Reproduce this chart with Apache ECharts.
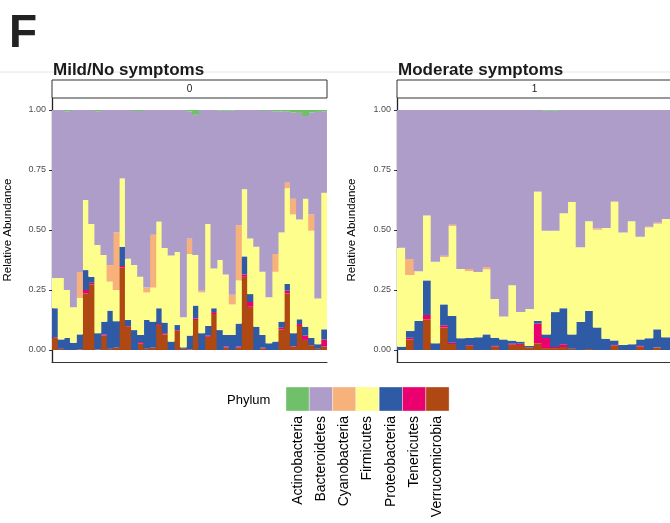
<!DOCTYPE html>
<html><head><meta charset="utf-8">
<script src="https://cdn.jsdelivr.net/npm/echarts@6/dist/echarts.min.js"></script>
<style>html,body{margin:0;padding:0;background:#fff}#chart{width:670px;height:523px}</style>
</head><body><div id="chart"></div>
<script>
// ---------- data ----------
const phyla = ['Actinobacteria','Bacteroidetes','Cyanobacteria','Firmicutes','Proteobacteria','Tenericutes','Verrucomicrobia'];
const phylumColors = ['#70c06a','#af9dc9','#f6b27a','#fefe8c','#2e5aa6','#eb006f','#b04814'];
const panelTitles = ['Mild/No symptoms','Moderate symptoms'];
const stripLabels = ['0','1'];
const yTickValues = [0, 0.25, 0.5, 0.75, 1];
const legendTitle = 'Phylum';
const yTitle = 'Relative Abundance';
const figureLetter = 'F';

const mildSamples = Array.from({length:45},(_,i)=>'M'+(i+1));
const mildVerruco = [.05,.005,0,0,.003, .236,.274,.002,.06,.005, .01,.343,.097,0,.028, .005,.01,.104,.065,0, .08,.005,.003,.125,0, .055,.15,0,.01,0, .01,.305,.18,0,.007, 0,0,.086,.236,.014, .10,.042,.02,.005,.014];
const mildTeneri  = [.003,0,0,0,0, .014,.006,0,.005,0, 0,.007,.003,0,.005, 0,0,.004,.005,0, .003,0,0,.007,0, .005,.008,0,.004,0, .004,.01,.02,0,.003, 0,0,.007,.011,.002, .008,.018,0,0,.03];
const mildProteo  = [.121,.039,.05,.03,.062, .083,.025,.068,.053,.159, .11,.08,.025,.083,.0295, .12,.108,.066,.044,.035, .021,.006,.057,.053,.07, .04,.016,.083,.0485,.0625, .096,.075,.033,.097,.0525, .028,.035,.025,.028,.054, .02,.037,.03,.019,.042];
const mildFirmi   = [.126,.256,.20,.148,.152, .292,.22,.3675,.278,.121, .13,.285,.255,.271,.2425, .115,.142,.361,.311,.359, .304,.125,.34,.211,.17, .425,.166,.292,.2525,.1275, .18,.28,.232,.333,.2635, .192,.291,.372,.399,.495, .416,.533,.447,.191,.569];
const mildCyano   = [0,0,0,0,.108, 0,0,0,0,.069, .24,0,0,0,0, .02,.22,0,0,0, 0,0,.064,0,.007, 0,0,0,0,.04, .23,0,0,0,0, 0,.074,0,.023,.065, 0,0,.068,0,0];
const mildBactero = [.70,.70,.745,.822,.675, .375,.475,.5575,.604,.646, .51,.285,.62,.642,.691, .74,.52,.465,.575,.606, .592,.864,.53,.584,.753, .475,.66,.622,.682,.767, .48,.33,.535,.57,.67, .78,.595,.504,.298,.36, .444,.345,.425,.777,.34];
const mildActino  = [0,0,.005,0,0, 0,0,.005,0,0, 0,0,0,.004,.004, 0,0,0,0,0, 0,0,.006,.02,0, 0,0,.003,.003,.003, 0,0,0,0,.004, 0,.005,.006,.005,.01, .012,.025,.01,.008,.005];

const modSamples = Array.from({length:32},(_,i)=>'D'+(i+1));
const modVerruco = [0,.044,0,.128,0, .094,.025,0,.017,0, 0,.014,0,.022,.021, .011,.028,.008,.008,.0125, .005,0,.004,0,0, .018,0,0,.014,0, .01,0];
const modTeneri  = [0,.007,0,.018,0, .009,.005,0,.003,0, 0,.003,0,.004,.005, 0,.082,.042,.0045,.0115, 0,0,0,0,0, .003,0,0,.003,0, .001,0];
const modProteo  = [.014,.028,.121,.144,.028, .087,.112,.049,.03,.053, .065,.034,.044,.013,.009, .006,.011,.015,.1455,.15, .06,.117,.1585,.094,.047, .019,.021,.024,.027,.049, .075,.053];
const modFirmi   = [.412,.2335,.207,.27,.34, .1975,.375,.2885,.279,.272, .271,.1615,.096,.231,.123, .154,.539,.432,.339,.396, .552,.311,.3735,.407,.461, .577,.469,.512,.428,.462, .44,.493];
const modCyano   = [0,.0665,0,0,0, .0055,.005,0,.0085,0, .01,0,0,0,0, 0,0,0,0,0, 0,0,0,.006,0, .003,0,0,0,.003, .004,0];
const modBactero = [.574,.621,.672,.44,.632, .607,.478,.6625,.6625,.675, .654,.7875,.86,.73,.842, .829,.34,.5,.5,.43, .383,.572,.464,.493,.492, .38,.51,.464,.528,.486, .47,.454];
const modActino  = [0,0,0,0,0, 0,0,0,0,0, 0,0,0,0,0, 0,0,.003,.003,0, 0,0,0,0,0, 0,0,0,0,0, 0,0];

// ---------- build ----------
const FONT = 'Liberation Sans, Arial, sans-serif';
// stacking order bottom -> top
const stackOrder = [
  ['Verrucomicrobia', mildVerruco, modVerruco],
  ['Tenericutes', mildTeneri, modTeneri],
  ['Proteobacteria', mildProteo, modProteo],
  ['Firmicutes', mildFirmi, modFirmi],
  ['Cyanobacteria', mildCyano, modCyano],
  ['Bacteroidetes', mildBactero, modBactero],
  ['Actinobacteria', mildActino, modActino]
];
const colorOf = n => phylumColors[phyla.indexOf(n)];

const panels = [
  {left: 52, samples: mildSamples, nameGap: 38},
  {left: 397, samples: modSamples, nameGap: 39}
];
const PW = 275, PT = 98, PH = 264;

const grids = [], xAxes = [], yAxes = [], series = [];
panels.forEach((p, gi) => {
  grids.push({left: p.left, top: PT, width: PW, height: PH, containLabel: false});
  xAxes.push({
    type: 'category', gridIndex: gi, data: p.samples,
    axisLine: {show: true, onZero: false, lineStyle: {color: '#333', width: 1}},
    axisTick: {show: false}, axisLabel: {show: false}, splitLine: {show: false}
  });
  yAxes.push({
    type: 'value', gridIndex: gi, min: -0.05, max: 1.05,
    name: yTitle, nameLocation: 'middle', nameRotate: 90, nameGap: p.nameGap,
    nameTextStyle: {fontFamily: FONT, fontSize: 11.5, color: '#000'},
    axisLine: {show: true, lineStyle: {color: '#222', width: 1.3}},
    axisTick: {show: true, length: 3, customValues: yTickValues, lineStyle: {color: '#333'}},
    axisLabel: {show: true, customValues: yTickValues, margin: 6, fontFamily: FONT, fontSize: 9, color: '#4d4d4d',
                formatter: v => Number(v).toFixed(2)},
    splitLine: {show: false}
  });
  const band = PW / p.samples.length;
  stackOrder.forEach(([name, mild, mod]) => {
    series.push({
      name, type: 'bar', stack: 'S' + gi, xAxisIndex: gi, yAxisIndex: gi,
      data: gi === 0 ? mild : mod,
      barWidth: band + 0.8,
      itemStyle: {color: colorOf(name)},
      emphasis: {disabled: true}, silent: true
    });
  });
});

const graphic = [];
// thin separator line
graphic.push({type: 'line', z: 0, shape: {x1: 0, y1: 72, x2: 670, y2: 72}, style: {stroke: '#e6e6e6', lineWidth: 1}});
// figure letter
graphic.push({type: 'text', z: 10, x: 9, y: 34, style: {text: figureLetter, font: 'bold 46px ' + FONT, fill: '#222', verticalAlign: 'middle'}});
panels.forEach((p, gi) => {
  graphic.push({type: 'text', z: 10, x: p.left + 1, y: 70, style: {text: panelTitles[gi], font: 'bold 17px ' + FONT, fill: '#1a1a1a', verticalAlign: 'middle'}});
  graphic.push({type: 'rect', z: 10, shape: {x: p.left, y: 80, width: PW, height: 18}, style: {fill: '#fff', stroke: '#333', lineWidth: 1}});
  graphic.push({type: 'text', z: 11, x: p.left + PW / 2, y: 89.5, style: {text: stripLabels[gi], font: '10px ' + FONT, fill: '#1a1a1a', align: 'center', verticalAlign: 'middle'}});
});
// legend
graphic.push({type: 'text', x: 227, y: 400, style: {text: legendTitle, font: '13px ' + FONT, fill: '#000', verticalAlign: 'middle'}});
const LX = 286, LW = 23.3, LY = 387, LH = 24;
phyla.forEach((n, i) => {
  graphic.push({type: 'rect', shape: {x: LX + i * LW, y: LY, width: LW, height: LH}, style: {fill: phylumColors[i], stroke: 'rgba(255,255,255,0.6)', lineWidth: 0.6}});
  graphic.push({type: 'text', x: LX + i * LW + LW / 2, y: 416, rotation: Math.PI / 2,
    style: {text: n, font: '14px ' + FONT, fill: '#000', align: 'right', verticalAlign: 'middle'}});
});

const chart = echarts.init(document.getElementById('chart'), null, {renderer: 'canvas'});
chart.setOption({
  animation: false,
  backgroundColor: '#fff',
  grid: grids, xAxis: xAxes, yAxis: yAxes, series,
  graphic
});
</script>
</body></html>
